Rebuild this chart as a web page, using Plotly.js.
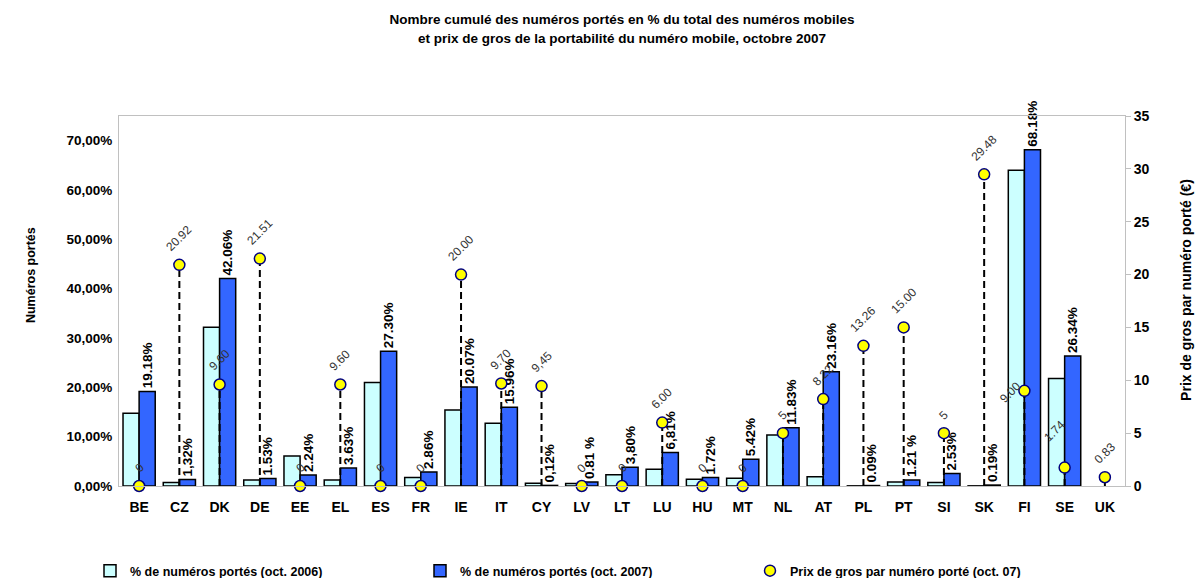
<!DOCTYPE html>
<html>
<head>
<meta charset="utf-8">
<script src="https://cdn.plot.ly/plotly-3.0.1.min.js"></script>
<style>html,body{margin:0;padding:0;background:#fff;}#chart{width:1196px;height:578px;}</style>
</head>
<body>
<div id="chart"></div>
<script>
// ---- data ----
const categories = ['BE','CZ','DK','DE','EE','EL','ES','FR','IE','IT','CY','LV','LT','LU','HU','MT','NL','AT','PL','PT','SI','SK','FI','SE','UK'];
const ported2006 = [14.75,0.7,32.2,1.2,6.1,1.2,21.0,1.7,15.4,12.7,0.55,0.5,2.3,3.4,1.35,1.55,10.35,1.9,0.03,0.8,0.7,0.03,64.0,21.8,null];
const ported2007 = [19.18,1.32,42.06,1.53,2.24,3.63,27.30,2.86,20.07,15.96,0.12,0.81,3.80,6.81,1.72,5.42,11.83,23.16,0.09,1.21,2.53,0.19,68.18,26.34,null];
const labels2007 = ['19.18%','1,32%','42.06%','1.53%','2.24%','3.63%','27.30%','2.86%','20.07%','15.96%','0,12%','0.81 %','3,80%','6,81%','1.72%','5.42%','11.83%','23.16%','0.09%','1.21 %','2.53%','0.19%','68.18%','26.34%',''];
const price = [0,20.92,9.60,21.51,0,9.60,0,0,20.00,9.70,9.45,0,0,6.00,0,0,5,8.22,13.26,15.00,5,29.48,9.00,1.74,0.83];
const priceLabels = ['0','20.92','9.60','21.51','0','9.60','0','0','20.00','9.70','9,45','0','0','6.00','0','0','5','8.22','13.26','15.00','5','29.48','9.00','1.74','0.83'];
const leftTickValues = [0,10,20,30,40,50,60,70];
const leftTickLabels = ['0,00%','10,00%','20,00%','30,00%','40,00%','50,00%','60,00%','70,00%'];
const seriesNames = ['% de numéros portés (oct. 2006)','% de numéros portés (oct. 2007)','Prix de gros par numéro porté (oct. 07)'];
const titleLine1 = 'Nombre cumulé des numéros portés en % du total des numéros mobiles';
const titleLine2 = 'et prix de gros de la portabilité du numéro mobile, octobre 2007';
const yTitle = 'Numéros portés';
const y2Title = 'Prix de gros par numéro porté (€)';

// ---- style ----
const FONT = 'Arial, "Liberation Sans", sans-serif';
const labelNudge = {FI: {x: -14, y: -25}, SE: {x: -10, y: 12}};

// drop lines from price markers to the axis
const dropX = [], dropY = [];
categories.forEach((c, i) => {
  if (price[i] > 0) { dropX.push(c, c, null); dropY.push(0, price[i], null); }
});

const traces = [
  {type: 'bar', name: seriesNames[0], x: categories, y: ported2006,
   marker: {color: '#ccffff', line: {color: '#000', width: 1.5}}, yaxis: 'y'},
  {type: 'bar', name: seriesNames[1], x: categories, y: ported2007,
   text: labels2007, textposition: 'outside', textangle: -90, cliponaxis: false, constraintext: 'none',
   textfont: {family: FONT, size: 13.5, color: '#000', weight: 'bold'},
   marker: {color: '#3366ff', line: {color: '#000', width: 1.5}}, yaxis: 'y'},
  {type: 'scatter', mode: 'lines', x: dropX, y: dropY, yaxis: 'y2', showlegend: false,
   hoverinfo: 'skip', connectgaps: false, cliponaxis: false,
   line: {color: '#000', width: 2, dash: '7px,4px'}},
  {type: 'scatter', mode: 'markers', name: seriesNames[2], x: categories, y: price, yaxis: 'y2',
   cliponaxis: false,
   marker: {color: '#ffff00', size: 11, line: {color: '#000080', width: 1.5}}}
];

const annotations = categories.map((c, i) => {
  const n = labelNudge[c] || {x: 0, y: 0};
  return {xref: 'x', yref: 'y2', x: c, y: price[i], text: priceLabels[i], showarrow: false,
    textangle: -45, xanchor: 'center', yanchor: 'bottom', yshift: 8 + n.y, xshift: n.x,
    font: {family: FONT, size: 12, color: '#333'}};
});
const titleFont = {family: FONT, size: 13.5, color: '#000', weight: 'bold'};
annotations.push({xref: 'paper', yref: 'paper', x: 0.5, y: 1, yshift: 78, text: titleLine2, showarrow: false,
  xanchor: 'center', yanchor: 'middle', font: titleFont});
annotations.push({xref: 'paper', yref: 'paper', x: 0, y: 0.57, xshift: -88, text: yTitle, showarrow: false,
  textangle: -90, xanchor: 'center', yanchor: 'middle', font: {family: FONT, size: 12.5, color: '#000', weight: 'bold'}});
annotations.push({xref: 'paper', yref: 'paper', x: 1, y: 0.53, xshift: 61, text: y2Title, showarrow: false,
  textangle: -90, xanchor: 'center', yanchor: 'middle', font: {family: FONT, size: 14, color: '#000', weight: 'bold'}});

const layout = {
  width: 1196, height: 578,
  margin: {l: 119, r: 71, t: 116, b: 92},
  paper_bgcolor: '#fff', plot_bgcolor: '#fff',
  font: {family: FONT, color: '#000'},
  title: {text: titleLine1, x: 0.5, xref: 'paper', y: 1 - 19 / 578, yref: 'container', yanchor: 'middle',
    font: titleFont},
  barmode: 'group', bargap: 0.2, bargroupgap: 0,
  showlegend: true,
  legend: {orientation: 'h', x: 90 / 1196, xanchor: 'left', xref: 'container', y: 1 - 571 / 578, yref: 'container',
    yanchor: 'middle', entrywidth: 285, entrywidthmode: 'pixels', traceorder: 'normal',
    font: {family: FONT, size: 12.5, color: '#000', weight: 'bold'}},
  xaxis: {type: 'category', range: [-0.5, 24.5], showline: true, linecolor: '#c0c0c0', linewidth: 1,
    mirror: true, ticks: '', showgrid: false, ticklabelstandoff: 8,
    tickfont: {family: FONT, size: 14, color: '#000', weight: 'bold'}},
  yaxis: {range: [0, 75], tickvals: leftTickValues, ticktext: leftTickLabels,
    showline: true, linecolor: '#c0c0c0', mirror: true, showgrid: false, zeroline: false, ticks: '',
    ticklabelstandoff: 3,
    tickfont: {family: FONT, size: 13.5, color: '#000', weight: 'bold'}},
  yaxis2: {overlaying: 'y', side: 'right', range: [0, 35], dtick: 5, ticks: 'outside', ticklen: 5,
    tickcolor: '#c0c0c0', showline: true, linecolor: '#c0c0c0', showgrid: false, zeroline: false,
    tickfont: {family: FONT, size: 14, color: '#000', weight: 'bold'}},
  annotations: annotations
};

Plotly.newPlot('chart', traces, layout, {displayModeBar: false, staticPlot: true});
</script>
</body>
</html>
